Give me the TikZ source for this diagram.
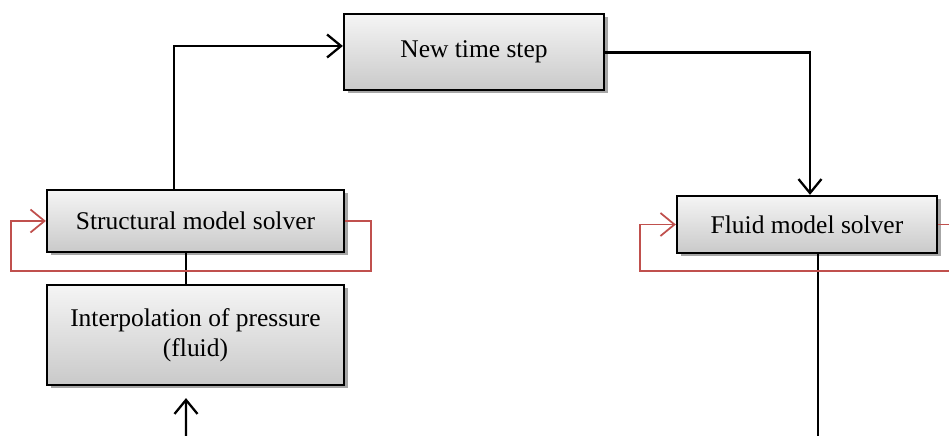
\documentclass[tikz,border=0pt]{standalone}
\usepackage{fontspec}
\setmainfont{Liberation Serif}
\usepackage{tikz}
\usetikzlibrary{positioning,shadows,arrows.meta}

\definecolor{loopred}{RGB}{192,80,77}

\tikzset{
	solverbox/.style={draw, line width=1.3pt, rectangle, align=center,
		top color=gray!8, bottom color=gray!42,
		drop shadow={shadow xshift=0.7mm, shadow yshift=-0.7mm, fill=gray!70, opacity=1},
		font=\fontsize{14.5}{17}\selectfont, inner sep=2pt},
	flow/.style={line width=1.3pt, -{Straight Barb[length=2.8mm,width=4.6mm,line width=1.3pt]}},
	redloop/.style={draw=loopred, line width=1pt, -{Straight Barb[length=2.8mm,width=4.6mm,line width=1pt]}}
}

\begin{document}
\begin{tikzpicture}
	\useasboundingbox (0,0) rectangle (18.98,8.72);
	
	% Boîtes
	\node[solverbox, minimum width=5.2cm, minimum height=1.52cm] (newstep) at (9.48,7.68) {New time step};
	\node[solverbox, minimum width=5.94cm, minimum height=1.24cm] (struct) at (3.91,4.30) {Structural model solver};
	\node[solverbox, minimum width=5.94cm, minimum height=2.0cm] (interp) at (3.91,2.02) {Interpolation of pressure\\(fluid)};
	\node[solverbox, minimum width=5.2cm, minimum height=1.14cm] (fluid) at (16.14,4.23) {Fluid model solver};
	
	% Bords libres
	\coordinate (pin) at (3.72,0);
	\coordinate (fout) at (16.36,0);
	\coordinate (rin) at (18.98,3.30);
	\coordinate (rout) at (18.98,4.23);
	
	% Flux principal
	\draw[flow] ([xshift=-4.3mm]struct.north) |- ([yshift=1.2mm]newstep.west);
	\draw[flow] ([yshift=-0.1mm]newstep.east) -| ([xshift=0.6mm]fluid.north);
	\draw[line width=1.3pt] ([xshift=-1.9mm]struct.south) -- ([xshift=-1.9mm]interp.north);
	\draw[flow] (pin) -- ([xshift=-1.9mm,yshift=-2.4mm]interp.south);
	\draw[line width=1.3pt] (fluid.south -| fout) -- (fout);
	
	% Boucles
	\draw[redloop] (struct.east) -- ++(0.52,0) |- ([xshift=-7mm,yshift=-10mm]struct.west) |- (struct.west);
	\draw[draw=loopred, line width=1pt] (fluid.east) -- (rout);
	\draw[redloop] (rin) -- ([xshift=-7.2mm]rin -| fluid.west) |- (fluid.west);
\end{tikzpicture}
\end{document}
